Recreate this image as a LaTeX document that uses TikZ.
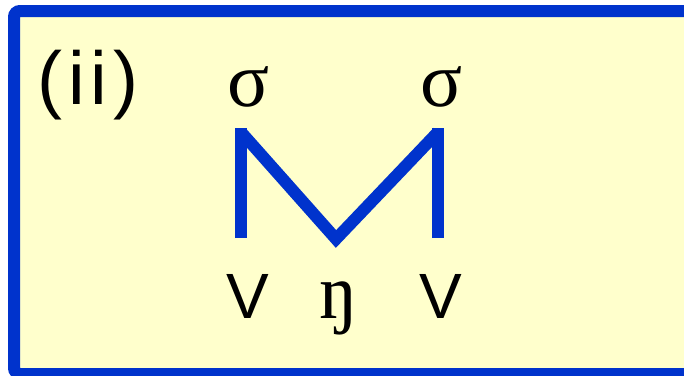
\documentclass[tikz,border=0pt]{standalone}
\usepackage{fontspec}
\setmainfont{Liberation Serif}
\newfontfamily\arialf{Liberation Sans}
\definecolor{boxblue}{HTML}{0033CC}
\definecolor{boxyellow}{HTML}{FFFFCC}
\begin{document}
\begin{tikzpicture}[x=1pt,y=-1pt,
  sanslbl/.style={inner sep=0pt,anchor=base,font=\arialf\fontsize{64}{70}\selectfont},
  seriflbl/.style={inner sep=0pt,anchor=base,font=\fontsize{78}{84}\selectfont},
  bline/.style={draw=boxblue,line width=12pt,line join=miter}]
\useasboundingbox (0,0) rectangle (684,375);
\clip (0,0) rectangle (684,375);
\fill[white] (0,0) rectangle (684,375);
\draw[boxblue,fill=boxyellow,line width=12pt,rounded corners=6pt] (14,11) rectangle (710,374);
\node[inner sep=0pt,anchor=base,font=\arialf\fontsize{75}{80}\selectfont] (lab) at (88,104) {(\kern6pt i\kern6pt i\kern6pt)};
\node[seriflbl] (s1) at (249,106) {σ};
\node[seriflbl] (s2) at (442,106) {σ};
\node[sanslbl] (v1) at (247.5,318) {V};
\node[sanslbl] (v2) at (441,318) {V};
\node[seriflbl] (ng) at (339,318) {ŋ};
\coordinate (a1) at (241,238);
\coordinate (a2) at (241,128);
\coordinate (m) at (336,239);
\coordinate (b2) at (438,128);
\coordinate (b1) at (438,238);
\draw[bline] (a1) -- (a2);
\draw[bline] (b1) -- (b2);
\draw[bline] ([shift={(0,4)}]a2) -- (m) -- ([shift={(0,4)}]b2);
\end{tikzpicture}
\end{document}
